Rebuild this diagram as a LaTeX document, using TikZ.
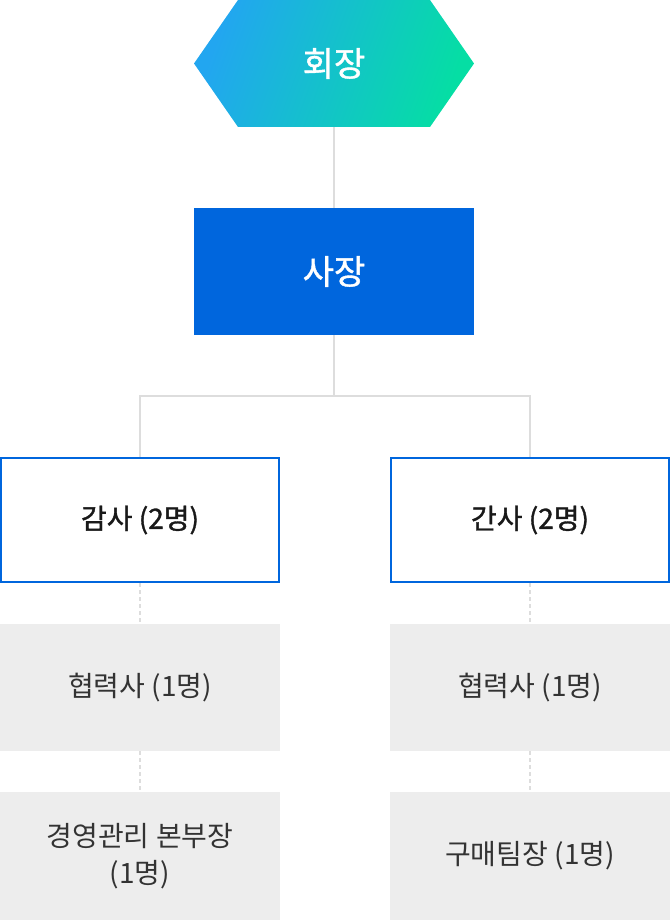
\documentclass[tikz,border=0pt]{standalone}
\usepackage{fontspec}
\newfontfamily\kr{Noto Sans CJK KR}
\newfontfamily\krmed[FakeBold=1.2]{Noto Sans CJK KR}
\definecolor{hexblue}{RGB}{34,166,240}
\definecolor{hexgreen}{RGB}{5,222,164}
\definecolor{ceoblue}{RGB}{0,102,221}
\definecolor{linegray}{RGB}{221,221,221}
\definecolor{boxgray}{RGB}{237,237,237}
\definecolor{txtgray}{RGB}{51,51,51}

\begin{document}
\begin{tikzpicture}[x=1pt,y=-1pt,
  topbox/.style={minimum width=280pt, minimum height=127pt, inner sep=0pt, text=white, font=\krmed\fontsize{34}{40}\selectfont},
  auditbox/.style={draw=ceoblue, line width=2pt, fill=white, minimum width=278pt, minimum height=124pt, inner sep=0pt, text=black!90, font=\krmed\fontsize{28}{34}\selectfont},
  staffbox/.style={fill=boxgray, minimum width=280pt, inner sep=0pt, text=txtgray, align=center, font=\kr\fontsize{28}{37}\selectfont},
  link/.style={linegray, line width=2pt},
  dashlink/.style={linegray, line width=1.5pt, dash pattern=on 4pt off 3pt}]
\useasboundingbox (0,0) rectangle (670,920);
\node[topbox, path picture={
  \shade[left color=hexblue, right color=hexgreen, shading angle=70]
    ([xshift=44pt]path picture bounding box.north west) -- ([xshift=-44pt]path picture bounding box.north east)
    -- (path picture bounding box.east) -- ([xshift=-44pt]path picture bounding box.south east)
    -- ([xshift=44pt]path picture bounding box.south west) -- (path picture bounding box.west) -- cycle;
  }] (chair) at (334,63.5) {회장};
\node[topbox, fill=ceoblue] (ceo) at (334,271.5) {사장};
\node[auditbox] (audit) at (140,520) {감사 (2명)};
\node[auditbox] (secretary) at (530,520) {간사 (2명)};
\node[staffbox, minimum height=127pt] (partnerL) at (140,687.5) {협력사 (1명)};
\node[staffbox, minimum height=127pt] (partnerR) at (530,687.5) {협력사 (1명)};
\node[staffbox, minimum height=128pt] (manager) at (140,856) {경영관리 본부장\\(1명)};
\node[staffbox, minimum height=128pt] (purchase) at (530,856) {구매팀장 (1명)};
\coordinate (split) at (334,396);
\draw[link] (chair.south) -- (ceo.north);
\draw[link] (ceo.south) -- (split);
\draw[link] (audit.north) |- (split) -| (secretary.north);
\draw[dashlink] (audit.south) -- (partnerL.north);
\draw[dashlink] (partnerL.south) -- (manager.north);
\draw[dashlink] (secretary.south) -- (partnerR.north);
\draw[dashlink] (partnerR.south) -- (purchase.north);
\end{tikzpicture}
\end{document}
